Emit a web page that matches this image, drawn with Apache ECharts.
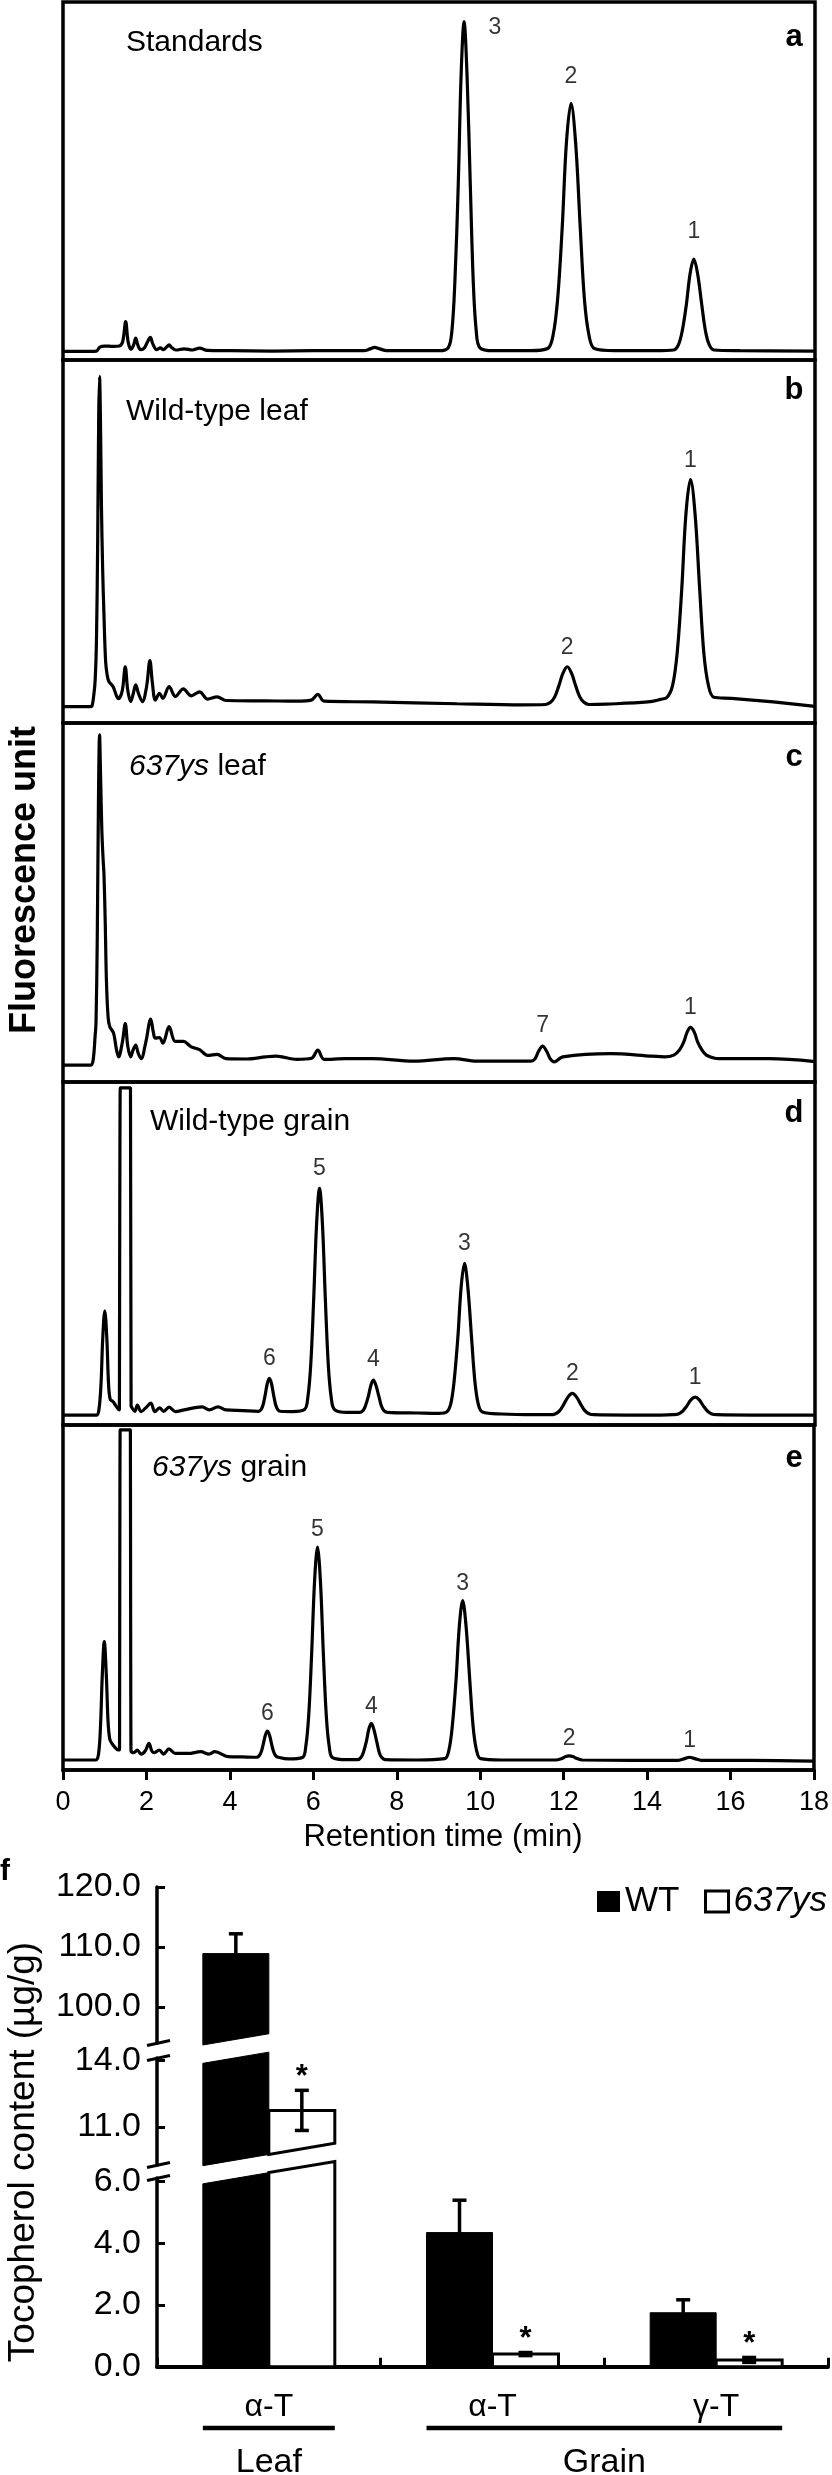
<!DOCTYPE html>
<html>
<head>
<meta charset="utf-8">
<script src="https://cdn.jsdelivr.net/npm/echarts@6.0.0/dist/echarts.min.js"></script>
<style>
html,body{margin:0;padding:0;background:#fff;}
#chart{width:832px;height:2475px;}
</style>
</head>
<body>
<div id="chart"></div>
<script>
// ================= DATA =================
// Retention-time axis (min)
const timeMin = 0, timeMax = 18, timeStep = 2;

// Chromatogram traces: [retention time (min), fluorescence (relative units, 0-100 per panel)]
const traceA = [
[0,2.4],[0.5,2.4],[0.8,2.5],[0.88,3.6],[1.0,3.9],[1.2,3.8],[1.35,3.9],[1.43,5.2],[1.5,10.7],[1.56,5.0],[1.63,3.0],[1.69,4.2],[1.74,6.1],[1.79,4.2],[1.86,2.9],[1.95,3.4],[2.02,5.0],[2.09,6.3],[2.15,4.5],[2.24,2.9],[2.33,3.4],[2.4,2.9],[2.48,3.6],[2.54,4.2],[2.6,3.5],[2.7,2.8],[2.9,3.1],[3.1,2.8],[3.27,3.3],[3.45,2.7],[4.0,2.6],[5.0,2.5],[6.0,2.6],[7.2,2.6],[7.35,3.1],[7.46,3.5],[7.58,3.1],[7.75,2.6],[8.5,2.6],[9.0,2.6],
[9.22,3.4],[9.31,8.3],[9.38,21.9],[9.46,48.6],[9.53,79.9],[9.6,94.5],[9.67,79.9],[9.75,48.6],[9.82,21.9],[9.89,8.3],[9.98,3.4],
[10.3,2.6],[11.2,2.6],
[11.6,3.2],[11.73,6.9],[11.84,17.1],[11.95,37.2],[12.05,60.7],[12.16,71.7],[12.27,60.7],[12.38,37.2],[12.48,17.1],[12.59,6.9],[12.72,3.2],
[13.2,2.6],[14.2,2.6],
[14.62,2.8],[14.73,4.2],[14.82,8.0],[14.92,15.4],[15.01,24.1],[15.1,28.2],[15.19,24.1],[15.29,15.4],[15.38,8.0],[15.47,4.2],[15.58,2.8],
[16.2,2.6],[18,2.5]
];
const traceB = [
[0,4.5],[0.65,4.5],[0.69,4.6],[0.74,8],[0.77,11.8],[0.8,22],[0.83,50],[0.855,85],[0.875,95.4],[0.895,85],[0.92,60],[0.95,42],[0.98,30],[1.02,17],[1.06,13],[1.1,11.4],[1.2,10.0],[1.28,7.5],[1.33,6.7],[1.42,9],[1.49,15.5],[1.55,9],[1.62,5.9],[1.68,8],[1.74,10.5],[1.81,8],[1.9,5.9],[2.0,10],[2.08,17.2],[2.14,11],[2.21,6.3],[2.31,8.2],[2.39,6.8],[2.54,10.0],[2.69,7.3],[2.88,9.4],[3.07,7.5],[3.27,8.6],[3.46,6.6],[3.69,7.2],[3.9,6.2],[4.85,6.1],[5.6,6.0],[5.94,6.3],[6.1,7.9],[6.25,6.0],[7.4,5.8],[9.43,5.3],[11.0,5.0],
[11.55,5.1],[11.67,5.7],[11.77,7.2],[11.87,10.3],[11.97,13.8],[12.07,15.5],[12.17,13.8],[12.27,10.3],[12.37,7.2],[12.47,5.7],[12.59,5.1],
[13.0,5.2],[14.0,5.8],[14.3,6.5],
[14.46,7.1],[14.59,10.3],[14.70,19.2],[14.81,36.8],[14.91,57.5],[15.02,67.1],[15.13,57.5],[15.24,36.8],[15.34,19.2],[15.45,10.3],[15.58,7.1],
[16.0,6.8],[17.0,5.8],[18,4.6]
];
const traceC = [
[0,4.7],[0.66,4.7],[0.72,6],[0.77,13],[0.79,16.4],[0.82,40],[0.85,80],[0.875,96.7],[0.9,85],[0.93,70],[0.96,62],[0.98,58],[1.01,45],[1.04,28],[1.08,18],[1.12,15.4],[1.21,13.6],[1.28,9],[1.33,7.0],[1.42,11],[1.49,16.3],[1.55,10],[1.62,7.0],[1.68,9],[1.74,10.3],[1.8,8],[1.87,6.5],[1.98,11],[2.1,17.5],[2.16,14],[2.21,12.2],[2.31,12.4],[2.39,10.8],[2.54,15.4],[2.69,11.3],[2.88,11.3],[3.07,9.8],[3.27,9.0],[3.46,7.4],[3.69,7.7],[3.9,6.5],[4.4,6.4],[4.85,7.0],[5.1,7.2],[5.6,6.3],[5.95,6.6],[6.1,8.9],[6.25,6.3],[6.76,6.5],[7.4,6.5],[8.4,5.8],[9.36,6.5],[9.9,5.8],[11.0,5.8],
[11.2,5.8],[11.3,6.5],[11.38,8.5],[11.48,10.0],[11.58,8.5],[11.66,6.5],[11.76,5.6],
[11.96,7.0],[13.1,7.9],[14.1,7.2],[14.4,7.0],
[14.62,7.5],[14.76,9.0],[14.86,11.2],[14.94,13.9],[15.02,15.2],[15.11,13.9],[15.19,11.2],[15.29,9.0],[15.4,7.5],[15.6,6.6],
[15.7,6.5],[16.9,6.5],[18,5.7]
];
const traceD = [
[0,2.9],[0.8,2.9],[0.86,4.5],[0.91,12],[0.95,25],[1.0,33.3],[1.05,25],[1.09,12],[1.13,7.5],[1.2,6.8],[1.27,5.5],[1.35,4.4],[1.355,4.4],[1.36,4.4],[1.37,98.3],[1.375,98.3],[1.615,98.3],[1.62,98.3],[1.63,5.5],[1.635,5.4],[1.72,4.0],[1.78,5.8],[1.87,3.9],[1.98,5.0],[2.1,6.4],[2.2,3.9],[2.31,5.0],[2.41,4.0],[2.54,5.2],[2.69,3.9],[2.9,4.4],[3.33,5.3],[3.5,4.4],[3.71,5.3],[3.9,4.4],[4.3,4.2],
[4.68,4.0],[4.74,4.5],[4.79,5.9],[4.84,8.8],[4.89,12.1],[4.94,13.6],[4.99,12.1],[5.04,8.8],[5.09,5.9],[5.14,4.5],[5.2,4.0],[5.5,3.9],
[5.78,4.5],[5.86,8.0],[5.93,17.6],[6.0,36.5],[6.07,58.6],[6.14,69.0],[6.21,58.6],[6.28,36.5],[6.35,17.6],[6.42,8.0],[6.5,4.5],[6.8,3.7],
[7.1,3.7],[7.18,4.2],[7.24,5.6],[7.31,8.4],[7.37,11.6],[7.43,13.1],[7.49,11.6],[7.56,8.4],[7.62,5.6],[7.68,4.2],[7.76,3.7],
[8.5,3.5],[9.0,3.4],
[9.18,3.8],[9.28,6.1],[9.36,12.6],[9.45,25.3],[9.53,40.2],[9.61,47.1],[9.69,40.2],[9.78,25.3],[9.86,12.6],[9.94,6.1],[10.04,3.8],
[10.5,3.2],[11.3,3.0],
[11.67,3.0],[11.79,3.3],[11.89,4.2],[11.99,6.1],[12.09,8.2],[12.19,9.2],[12.29,8.2],[12.39,6.1],[12.49,4.2],[12.59,3.3],[12.71,3.0],
[13.5,2.9],[14.3,2.9],
[14.61,3.0],[14.73,3.2],[14.83,4.0],[14.93,5.5],[15.03,7.3],[15.13,8.1],[15.23,7.3],[15.33,5.5],[15.43,4.0],[15.53,3.2],[15.65,3.0],
[16.5,2.9],[18,2.9]
];
const traceE = [
[0,2.9],[0.78,2.9],[0.85,4.5],[0.9,13],[0.94,27],[0.99,37.2],[1.04,27],[1.08,14],[1.12,9],[1.17,7.7],[1.25,6.5],[1.32,5.8],[1.355,5.8],[1.36,5.8],[1.37,98.6],[1.375,98.6],[1.615,98.6],[1.62,98.6],[1.63,5.3],[1.635,5.3],[1.7,5.0],[1.78,5.8],[1.87,4.6],[1.97,5.5],[2.06,7.7],[2.13,5.5],[2.19,5.0],[2.31,5.8],[2.41,4.6],[2.54,6.1],[2.69,4.8],[3.0,4.8],[3.3,5.3],[3.5,4.6],[3.64,5.3],[3.96,3.9],[4.3,3.8],
[4.64,3.7],[4.7,4.1],[4.75,5.2],[4.8,7.5],[4.85,10.1],[4.9,11.3],[4.95,10.1],[5.0,7.5],[5.05,5.2],[5.1,4.1],[5.16,3.7],[5.4,3.2],
[5.74,3.6],[5.82,6.9],[5.89,15.9],[5.96,33.8],[6.03,54.8],[6.1,64.6],[6.17,54.8],[6.24,33.8],[6.31,15.9],[6.38,6.9],[6.46,3.6],[6.8,3.0],
[7.07,3.0],[7.14,3.6],[7.2,5.1],[7.27,8.2],[7.33,11.8],[7.39,13.5],[7.45,11.8],[7.52,8.2],[7.58,5.1],[7.64,3.6],[7.72,3.0],
[8.5,2.9],
[9.15,3.3],[9.25,5.8],[9.33,12.6],[9.42,26.0],[9.5,41.8],[9.58,49.1],[9.66,41.8],[9.75,26.0],[9.83,12.6],[9.91,5.8],[10.01,3.3],
[10.5,2.9],[11.8,2.9],
[11.95,3.3],[12.05,3.9],[12.13,4.1],[12.22,3.9],[12.32,3.3],[12.45,2.9],
[14.75,2.8],[14.9,3.3],[15.02,3.7],[15.14,3.3],[15.3,2.8],
[16.5,2.8],[18,2.6]
];

// Peak labels: [retention time, peak top, label]
const peaksA = [[9.6,94.5,'3'],[12.16,71.7,'2'],[15.1,28.2,'1']];
const peaksB = [[12.07,15.5,'2'],[15.02,67.1,'1']];
const peaksC = [[11.48,10.0,'7'],[15.02,15.2,'1']];
const peaksD = [[4.94,13.6,'6'],[6.14,69.0,'5'],[7.43,13.1,'4'],[9.61,47.1,'3'],[12.19,9.2,'2'],[15.13,8.1,'1']];
const peaksE = [[4.9,11.3,'6'],[6.1,64.6,'5'],[7.39,13.5,'4'],[9.58,49.1,'3'],[12.13,4.1,'2'],[15.02,3.7,'1']];

const panelNames = ['Standards','Wild-type leaf','{i|637ys} leaf','Wild-type grain','{i|637ys} grain'];
const panelLetters = ['a','b','c','d','e'];

// Bar chart (f): tocopherol content (µg/g)
const barCats = ['α-T','α-T','γ-T'];
const barGroups = [['Leaf',0,0],['Grain',1,2]];
const seriesNames = ['WT','637ys'];
const wtMean = [108.9,4.35,1.75];
const wtErr = [3.3,1.05,0.42];
const ysMean = [11.75,0.41,0.22];
const ysErr = [0.9,0.05,0.08];
const ysSignif = [1,1,1];
// broken y axis segments (upper, middle, lower)
const segRanges = [[94,120],[9.3,14.1],[0,6.12]];
const segTicks = [[100,110,120],[11,14],[0,2,4,6]];
const cutAbove = [null,13.86,5.93];
const cutBelow = [93.67,9.27,null];

// ================= LAYOUT / STYLE =================
const FONT = '"Liberation Sans", Arial, Helvetica, sans-serif';
const chromLeft = 63, chromWidth = 752;
const panelTop = [2,360,723,1082,1425];
const panelBot = [360,723,1082,1425,1770];
const nameX = [126,126,129,150,152];
const nameDy = [41,52,44,40,43];
const letterDy = [35,30,34,31,33];
const peakDist = [15,7,8,8,5];
const barLeft = 157, barAreaW = 671;
const segTop = [1887,2058,2178];
const segBot = [2043,2165,2366.7];
const BAR_FRAC = 0.295;
const CUT_SLOPE = -0.17;
const legendLeft = [597, 704];

const traces = [traceA,traceB,traceC,traceD,traceE];
const peaks = [peaksA,peaksB,peaksC,peaksD,peaksE];

function clipPoly(poly, f){
  const out = [];
  for (let i=0;i<poly.length;i++){
    const a = poly[i], b = poly[(i+1)%poly.length];
    const fa = f(a), fb = f(b);
    if (fa >= 0) out.push(a);
    if ((fa >= 0) !== (fb >= 0)){
      const t = fa/(fa-fb);
      out.push([a[0]+t*(b[0]-a[0]), a[1]+t*(b[1]-a[1])]);
    }
  }
  return out;
}

const grid = [], xAxis = [], yAxis = [], series = [];
for (let i=0;i<5;i++){
  grid.push({left:chromLeft, width:chromWidth, top:panelTop[i], height:panelBot[i]-panelTop[i], show:true, borderColor:'#000', borderWidth:3.5, backgroundColor:'rgba(0,0,0,0)'});
  xAxis.push({type:'value', gridIndex:i, min:timeMin, max:timeMax, interval:timeStep, show:i===4,
    axisLine:{show:true, onZero:false, lineStyle:{color:'#000', width:3.5}},
    axisTick:{show:true, length:10, lineStyle:{color:'#000', width:3}},
    axisLabel:{color:'#000', fontSize:27, fontFamily:FONT, margin:19},
    splitLine:{show:false}});
  yAxis.push({type:'value', gridIndex:i, min:0, max:100, show:false, splitLine:{show:false}});
  series.push({type:'line', xAxisIndex:i, yAxisIndex:i, data:traces[i], showSymbol:false, symbol:'none', smooth:0.35,
    lineStyle:{color:'#000', width:3.2}, z:3, silent:true, animation:false});
  series.push({type:'scatter', xAxisIndex:i, yAxisIndex:i, symbolSize:1, itemStyle:{color:'rgba(0,0,0,0)'}, silent:true, z:4,
    data: peaks[i].map(p => {
      const d = {value:[p[0],p[1]], name:p[2]};
      if (i===0 && p[2]==='3') d.label = {position:'right', distance:24, offset:[0,6]};
      return d;
    }),
    label:{show:true, formatter:'{b}', position:'top', distance:peakDist[i], color:'#000', fontSize:23, fontFamily:FONT}});
}

function makeBarRenderer(k, s){
  return function(params, api){
    const cat = api.value(0), val = api.value(1), err = api.value(2), sig = api.value(3);
    const base = api.coord([cat, 0]);
    const band = api.size([1,0])[0];
    const bw = band*BAR_FRAC;
    const xl = s===0 ? base[0]-bw : base[0];
    const xr = xl + bw;
    const xc = (xl+xr)/2;
    const yTop = api.coord([cat, val])[1];
    let poly = [[xl,yTop],[xr,yTop],[xr,base[1]],[xl,base[1]]];
    const leafLeft = api.coord([0,0])[0] - bw;
    if (cutAbove[k] != null){
      const y0 = api.coord([0, cutAbove[k]])[1];
      poly = clipPoly(poly, p => p[1] - (y0 + CUT_SLOPE*(p[0]-leafLeft)));
    }
    if (cutBelow[k] != null){
      const y0 = api.coord([0, cutBelow[k]])[1];
      poly = clipPoly(poly, p => (y0 + CUT_SLOPE*(p[0]-leafLeft)) - p[1]);
    }
    const children = [];
    if (poly.length >= 3){
      children.push({type:'polygon', shape:{points:poly},
        style:{fill: s===0 ? '#000' : '#fff', stroke:'#000', lineWidth: s===0 ? 1 : 3}});
    }
    const lo = segRanges[k][0], hi = segRanges[k][1];
    if (val >= lo && val <= hi){
      const yHi = api.coord([cat, val+err])[1];
      const yLo = s===0 ? yTop : api.coord([cat, val-err])[1];
      const ls = {stroke:'#000', lineWidth:3.5};
      children.push({type:'line', shape:{x1:xc,y1:yLo,x2:xc,y2:yHi}, style:ls});
      children.push({type:'line', shape:{x1:xc-7,y1:yHi,x2:xc+7,y2:yHi}, style:ls});
      if (s===1) children.push({type:'line', shape:{x1:xc-7,y1:yLo,x2:xc+7,y2:yLo}, style:ls});
      if (sig){
        children.push({type:'text', x:xc, y:yHi-13,
          style:{text:'*', fontSize:31, fontWeight:'bold', fontFamily:FONT, fill:'#000',
                 align:'center', verticalAlign:'middle', textAlign:'center', textVerticalAlign:'middle'}});
      }
    }
    return {type:'group', children};
  };
}

for (let k=0;k<3;k++){
  const gi = 5+k;
  grid.push({left:barLeft, width:barAreaW, top:segTop[k], height:segBot[k]-segTop[k], show:false});
  xAxis.push({type:'category', gridIndex:gi, data:barCats, show:k===2, boundaryGap:true,
    axisLine:{show:true, onZero:false, lineStyle:{color:'#000', width:4}},
    axisTick:{show:true, inside:true, length:9, interval:0, alignWithLabel:false, lineStyle:{color:'#000', width:3}},
    axisLabel:{color:'#000', fontSize:32, fontFamily:FONT, margin:24, interval:0}});
  yAxis.push({type:'value', gridIndex:gi, min:segRanges[k][0], max:segRanges[k][1],
    axisLine:{show:true, onZero:false, lineStyle:{color:'#000', width:3.5}},
    axisTick:{show:true, inside:true, length:8, lineStyle:{color:'#000', width:3}, customValues:segTicks[k]},
    axisLabel:{customValues:segTicks[k], formatter: v => Number(v).toFixed(1), color:'#000', fontSize:34, fontFamily:FONT, margin:16},
    splitLine:{show:false}});
  series.push({type:'custom', name:seriesNames[0], xAxisIndex:gi, yAxisIndex:gi, z:2, silent:true,
    encode:{x:0, y:1}, data: barCats.map((c,i)=>[i, wtMean[i], wtErr[i], 0]), renderItem: makeBarRenderer(k,0)});
  series.push({type:'custom', name:seriesNames[1], xAxisIndex:gi, yAxisIndex:gi, z:3, silent:true,
    encode:{x:0, y:1}, data: barCats.map((c,i)=>[i, ysMean[i], ysErr[i], ysSignif[i]]), renderItem: makeBarRenderer(k,1)});
}

const legendIcons = [
  {icon:'rect', itemStyle:{color:'#000', borderWidth:0}},
  {icon:'rect', itemStyle:{color:'#fff', borderColor:'#000', borderWidth:3}}
];
const legend = seriesNames.map((n, i) => ({
  show:true, left:legendLeft[i], top:1884, padding:0, itemWidth:23, itemHeight:21, selectedMode:false, orient:'horizontal',
  textStyle:{color:'#000', fontSize:35, fontFamily:FONT, rich:{i:{fontStyle:'italic', fontSize:35, fontFamily:FONT, color:'#000'}}},
  formatter: nm => nm==='637ys' ? '{i|637ys}' : nm,
  data:[Object.assign({name:n}, legendIcons[i])]
}));

const option = {
  animation:false,
  backgroundColor:'#fff',
  grid, xAxis, yAxis, series, legend
};

const chart = echarts.init(document.getElementById('chart'), null, {renderer:'canvas'});
chart.setOption(option);

// ---------- decorations / text ----------
function txt(x, y, text, size, opts){
  opts = opts || {};
  return {type:'text', x, y, rotation: opts.rotation || 0, z:10,
    style:{text, fontSize:size, fontFamily:FONT, fontWeight:opts.bold?'bold':'normal', fill:'#000',
      align:opts.align||'left', verticalAlign:'middle', textAlign:opts.align||'left', textVerticalAlign:'middle',
      rich:{i:{fontStyle:'italic', fontSize:size, fontFamily:FONT, fill:'#000', color:'#000'}}}};
}
const g = [];
for (let i=0;i<5;i++){
  g.push(txt(nameX[i], panelTop[i]+nameDy[i], panelNames[i], 30));
  g.push(txt(794, panelTop[i]+letterDy[i], panelLetters[i], 31, {bold:true, align:'center'}));
}
g.push(txt(25, 880, 'Fluorescence unit', 36, {bold:true, align:'center', rotation:Math.PI/2}));
g.push(txt((chromLeft + chromLeft + chromWidth)/2 + 4, 1837, 'Retention time (min)', 31, {align:'center'}));
g.push(txt(0, 1872, 'f', 30, {bold:true}));
g.push(txt(24, 2152, 'Tocopherol content (µg/g)', 37, {align:'center', rotation:Math.PI/2}));

// axis break marks
const brk = [[0,0],[1,1],[1,0],[2,1]];
brk.forEach(([k, end]) => {
  const y = chart.convertToPixel({yAxisIndex:5+k}, segRanges[k][end]);
  g.push({type:'line', z:10, shape:{x1:barLeft-10, y1:y+2.5, x2:barLeft+13, y2:y-2.5}, style:{stroke:'#000', lineWidth:3}});
});
// group underlines and labels
const cx = i => chart.convertToPixel({xAxisIndex:7}, i);
const band = cx(1) - cx(0);
const bw = band*BAR_FRAC;
barGroups.forEach(([name, a, b]) => {
  const x1 = cx(a) - bw, x2 = cx(b) + bw;
  g.push({type:'line', z:10, shape:{x1, y1:2428, x2, y2:2428}, style:{stroke:'#000', lineWidth:4.5}});
  g.push(txt((x1+x2)/2, 2463, name, 34, {align:'center'}));
});
chart.setOption({graphic:g});
</script>
</body>
</html>
